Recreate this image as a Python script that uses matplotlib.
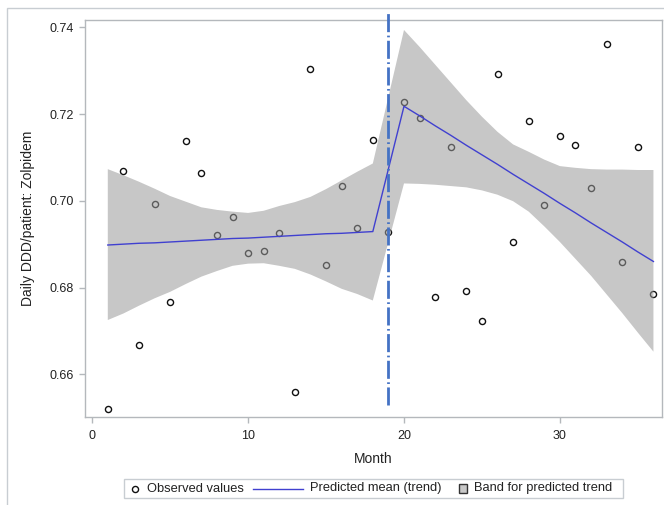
import numpy as np
import matplotlib
matplotlib.use("Agg")
import matplotlib.pyplot as plt
from matplotlib.lines import Line2D
from matplotlib.patches import Rectangle

plt.rcParams['font.family'] = ['Liberation Sans', 'DejaVu Sans']
plt.rcParams['lines.scale_dashes'] = False

# ---------------- data ----------------
months = list(range(1, 37))
observed = [0.6520, 0.7068, 0.6667, 0.6992, 0.6766, 0.7139, 0.7063, 0.6921, 0.6962,
            0.6879, 0.6884, 0.6925, 0.6559, 0.7304, 0.6852, 0.7034, 0.6937, 0.7140,
            0.6928, 0.7229, 0.7192, 0.6778, 0.7123, 0.6792, 0.6722, 0.7292, 0.6906,
            0.7184, 0.6991, 0.7149, 0.7128, 0.7029, 0.7361, 0.6858, 0.7123, 0.6785]
predicted = [0.6898, 0.6900, 0.6902, 0.6903, 0.6905, 0.6907, 0.6909, 0.6911, 0.6913,
             0.6914, 0.6916, 0.6918, 0.6920, 0.6922, 0.6924, 0.6925, 0.6927, 0.6929,
             np.nan, 0.7218, 0.7196, 0.7173, 0.7151, 0.7128, 0.7106, 0.7084, 0.7061,
             0.7039, 0.7017, 0.6994, 0.6972, 0.6949, 0.6927, 0.6905, 0.6882, 0.6860]
band_upper = [0.7073, 0.7059, 0.7044, 0.7028, 0.7011, 0.6998, 0.6985, 0.6979, 0.6975,
              0.6972, 0.6977, 0.6988, 0.6997, 0.7009, 0.7027, 0.7047, 0.7067, 0.7086,
              np.nan, 0.7394, 0.7355, 0.7314, 0.7273, 0.7232, 0.7194, 0.7159, 0.7130,
              0.7113, 0.7095, 0.7080, 0.7076, 0.7073, 0.7072, 0.7072, 0.7071, 0.7071]
band_lower = [0.6725, 0.6740, 0.6758, 0.6775, 0.6790, 0.6808, 0.6825, 0.6838, 0.6850,
              0.6855, 0.6856, 0.6850, 0.6843, 0.6830, 0.6814, 0.6797, 0.6785, 0.6770,
              np.nan, 0.7040, 0.7039, 0.7037, 0.7034, 0.7031, 0.7024, 0.7014, 0.6999,
              0.6975, 0.6941, 0.6905, 0.6866, 0.6827, 0.6784, 0.6741, 0.6696, 0.6652]
intervention_month = 19
x_ticks = [0, 10, 20, 30]
y_ticks = [0.66, 0.68, 0.70, 0.72, 0.74]

# ---------------- figure ----------------
W, H = 664, 505
fig = plt.figure(figsize=(W / 100, H / 100), dpi=100)
fig.patch.set_facecolor('white')

def fx(px):
    return px / W

def fy(py):
    return 1 - py / H

ax_l, ax_r, ax_t, ax_b = 85, 661.7, 20, 416.7
ax = fig.add_axes([fx(ax_l), fy(ax_b), (ax_r - ax_l) / W, (ax_b - ax_t) / H])

m = np.array(months, dtype=float)
obs = np.array(observed)
pred = np.array(predicted)
up = np.array(band_upper)
lo = np.array(band_lower)
ok = ~np.isnan(pred)

ax.plot(m, obs, linestyle='none', marker='o', markersize=4.4, markerfacecolor='none',
        markeredgecolor='#111111', markeredgewidth=1.0, zorder=2)
ax.fill_between(m[ok], lo[ok], up[ok], facecolor='#999999', alpha=0.55,
                edgecolor='none', linewidth=0, zorder=3)
ax.plot(m[ok], pred[ok], color='#4040d0', linewidth=1.0, zorder=4)

vline = Line2D([intervention_month, intervention_month], [0.6529, 0.7434],
               color='#4472C4', linewidth=2.0, zorder=5, clip_on=False)
vline.set_dashes([13, 2.5, 1.2, 2.5])
ax.add_line(vline)

ax.set_xlim(-0.462, 36.53)
ax.set_ylim(0.6502, 0.7417)
ax.set_xticks(x_ticks)
ax.set_yticks(y_ticks)
ax.set_yticklabels([f"{v:.2f}" for v in y_ticks])

spine_c = '#B4B8BC'
for s in ax.spines.values():
    s.set_color(spine_c)
    s.set_linewidth(1.0)
ax.tick_params(axis='both', colors=spine_c, labelcolor='#222222', labelsize=9,
               length=4.5, width=1.0, direction='out')
ax.tick_params(axis='x', pad=5)
ax.tick_params(axis='y', pad=3.5)

ax.set_xlabel('Month', fontsize=10, color='#222222')
ax.xaxis.set_label_coords(0.5, -0.088)
ax.set_ylabel('Daily DDD/patient: Zolpidem', fontsize=10, color='#222222')
ax.yaxis.set_label_coords(-0.087, 0.5)

# outer border
fig.add_artist(Rectangle((fx(6.5), -0.1), 1.2, fy(8) + 0.1, transform=fig.transFigure,
                         fill=False, edgecolor='#C8CDD2', linewidth=1.0, clip_on=False))

# legend (manual)
ly = 488.5
fig.add_artist(Rectangle((fx(124), fy(498)), (623 - 124) / W, 19 / H,
                         transform=fig.transFigure, facecolor='white',
                         edgecolor='#C8CDD2', linewidth=1.0))
fig.add_artist(Line2D([fx(135)], [fy(ly)], transform=fig.transFigure, marker='o',
                      markersize=4.4, markerfacecolor='none', markeredgecolor='#111111',
                      markeredgewidth=1.0, linestyle='none'))
fig.add_artist(Line2D([fx(253), fx(303)], [fy(ly), fy(ly)], transform=fig.transFigure,
                      color='#4040d0', linewidth=1.0))
fig.add_artist(Rectangle((fx(458.5), fy(ly + 4.3)), 8.6 / W, 8.6 / H,
                         transform=fig.transFigure, facecolor='#c8c8c8',
                         edgecolor='#333333', linewidth=1.0))
for tx, label in [(146.7, 'Observed values'), (310, 'Predicted mean (trend)'),
                  (474, 'Band for predicted trend')]:
    fig.text(fx(tx), fy(ly), label, fontsize=9.3, color='#222222', ha='left', va='center')

fig.savefig('out.png', dpi=100, facecolor='white')
